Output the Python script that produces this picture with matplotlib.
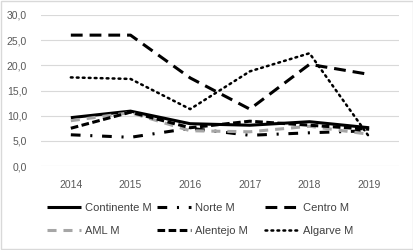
import numpy as np
import matplotlib
matplotlib.use("Agg")
import matplotlib.pyplot as plt
from matplotlib.patches import Rectangle

plt.rcParams['font.family'] = ['Liberation Sans', 'DejaVu Sans']
plt.rcParams['lines.scale_dashes'] = False

# dados
anos = ['2014', '2015', '2016', '2017', '2018', '2019']
continente = [9.6, 10.9, 8.4, 8.1, 8.8, 7.6]
norte = [6.2, 5.7, 7.5, 6.1, 6.6, 7.0]
centro = [26.0, 26.0, 17.5, 11.3, 20.2, 18.2]
aml = [9.0, 10.6, 7.0, 6.8, 7.9, 6.3]
alentejo = [7.5, 10.7, 7.6, 8.9, 8.1, 7.3]
algarve = [17.6, 17.3, 11.3, 18.8, 22.4, 5.8]
y_ticks = [0, 5, 10, 15, 20, 25, 30]

W, H = 414, 250
fig = plt.figure(figsize=(W / 100, H / 100), dpi=100)
ax = fig.add_axes([41 / W, 1 - 166 / H, 358 / W, 151 / H])

x = np.arange(len(anos))
l1, = ax.plot(x, continente, color='black', lw=2.2, solid_capstyle='butt', label='Continente M')
l2, = ax.plot(x, norte, color='black', lw=2.2, dashes=(7, 7, 1.5, 7), dash_capstyle='butt', label='Norte M')
l3, = ax.plot(x, centro, color='black', lw=2.2, dashes=(8.5, 5), dash_capstyle='butt', label='Centro M')
l4, = ax.plot(x, aml, color='#A6A6A6', lw=2.2, dashes=(6.5, 5), dash_capstyle='butt', label='AML M')
l5, = ax.plot(x, alentejo, color='black', lw=2.2, dashes=(5.5, 2.5), dash_capstyle='butt', label='Alentejo M')
l6, = ax.plot(x, algarve, color='black', lw=1.8, dashes=(1.3, 3.0), dash_capstyle='round', label='Algarve M')

ax.set_xlim(-0.5, len(anos) - 0.5)
ax.set_ylim(0, 30)
ax.set_xticks(x)
ax.set_xticklabels(anos)
ax.set_yticks(y_ticks)
ax.set_yticklabels([f'{v:.1f}'.replace('.', ',') for v in y_ticks])
ax.tick_params(length=0, labelsize=7.5, colors='#595959')
ax.tick_params(axis='x', pad=10)
ax.tick_params(axis='y', pad=10)
ax.grid(axis='y', color='#D9D9D9', lw=0.8)
ax.set_axisbelow(True)
for s in ax.spines.values():
    s.set_visible(False)

# legenda em tres colunas, preenchida por linhas
colunas = [((l1, l4), 47), ((l2, l5), 157), ((l3, l6), 265)]
for linhas, xpx in colunas:
    leg = fig.legend(linhas, [l.get_label() for l in linhas], loc='upper left',
                     bbox_to_anchor=(xpx / W, 1 - 203 / H), frameon=False,
                     fontsize=8, handlelength=3.1, handletextpad=0.3,
                     labelspacing=1.2, borderpad=0, borderaxespad=0)
    for t in leg.get_texts():
        t.set_color('#404040')

fig.patches.append(Rectangle((0.002, 0.003), 0.995, 0.993, transform=fig.transFigure,
                             fill=False, edgecolor='#D9D9D9', lw=1))

fig.savefig('out.png', dpi=100)
